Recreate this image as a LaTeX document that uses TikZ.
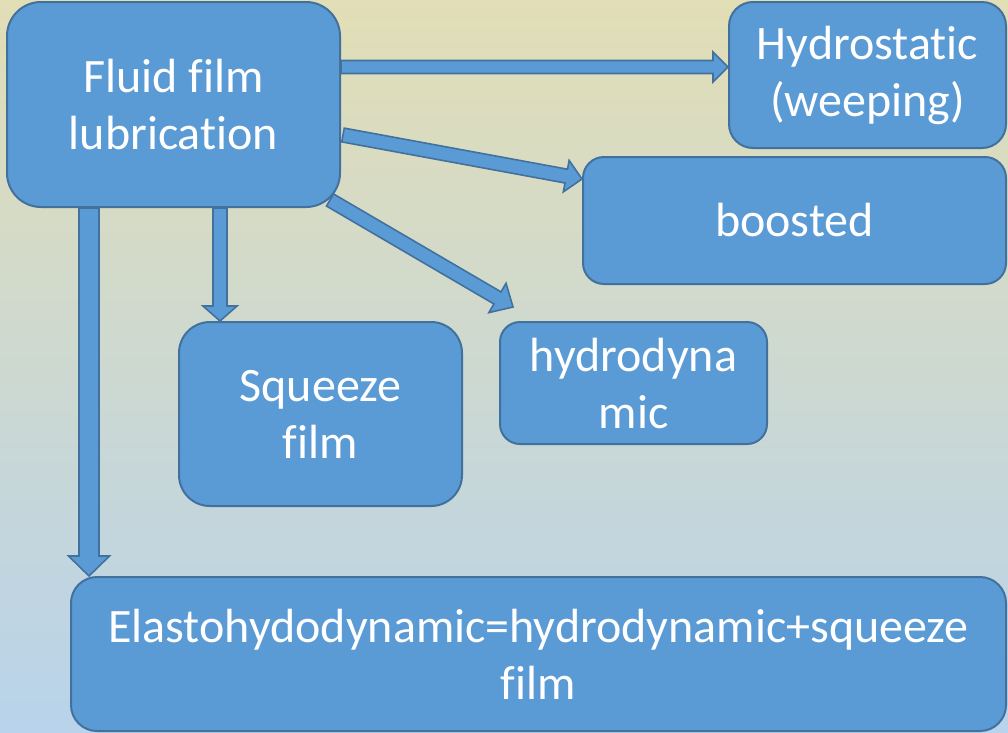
\documentclass[tikz,border=0pt]{standalone}
\usepackage{fontspec}
\setmainfont{Carlito}[Ligatures=NoCommon]
\usetikzlibrary{calc}
\definecolor{bgtop}{HTML}{E2DEB6}
\definecolor{bgbot}{HTML}{B8D3EB}
\definecolor{boxfill}{HTML}{5B9BD5}
\definecolor{boxline}{HTML}{41719C}
\tikzset{
  box/.style={draw=boxline, fill=boxfill, line width=2pt, text=white, align=center,
    inner sep=0pt, font=\fontsize{48}{57}\selectfont},
  arrowbox/.style={draw=boxline, fill=boxfill, line width=1.6pt, line join=miter}
}
\newcommand\blockarrow[5]{%
  \path (#1); \pgfgetlastxy{\bax}{\bay}%
  \path (#2); \pgfgetlastxy{\bbx}{\bby}%
  \pgfmathsetmacro\bang{atan2((\bby)-(\bay),(\bbx)-(\bax))}%
  \pgfmathsetmacro\blen{veclen((\bbx)-(\bax),(\bby)-(\bay))}%
  \pgfmathsetmacro\bneck{\blen-#5}%
  \begin{scope}[shift={(\bax,\bay)},rotate=\bang]
    \draw[arrowbox] (0pt,#3pt) -- (\bneck pt,#3pt) -- (\bneck pt,#4pt) -- (\blen pt,0pt)
      -- (\bneck pt,-#4pt) -- (\bneck pt,-#3pt) -- (0pt,-#3pt) -- cycle;
  \end{scope}}
\begin{document}
\begin{tikzpicture}[x=1pt,y=-1pt]
\useasboundingbox (0,0) rectangle (1008,732);
\fill[top color=bgtop, bottom color=bgbot] (0,0) rectangle (1008,732);

\node[box, minimum width=333pt, minimum height=205pt, rounded corners=34pt] (fluid) at (173.5,104.5) {Fluid film\\lubrication};
\node[box, minimum width=277pt, minimum height=146pt, rounded corners=24pt] (hydro) at (867.5,75) {Hydrostatic\\(weeping)};
\node[box, minimum width=423pt, minimum height=127pt, rounded corners=21pt] (boosted) at (794.5,220.5) {boosted};
\node[box, minimum width=267pt, minimum height=122pt, rounded corners=20pt] (hdyn) at (633.5,383) {hydrodyna\\mic};
\node[box, minimum width=283pt, minimum height=184pt, rounded corners=31pt] (squeeze) at (320.5,414) {Squeeze\\film};
\node[box, minimum width=935pt, minimum height=154pt, rounded corners=26pt] (elasto) at (538.5,654) {Elastohydodynamic=hydrodynamic+squeeze\\film};

\coordinate (a1s) at (fluid.east |- 0,67);
\coordinate (a1e) at (hydro.west |- 0,67);
\coordinate (a2s) at ($(fluid.east |- 0,135)+(2,0)$);
\coordinate (a2e) at ($(boosted.north west)+(0,23)$);
\coordinate (a3s) at ($(fluid.south east)+(-11,-8)$);
\coordinate (a3e) at (513,307);
\coordinate (a4s) at (fluid.south -| 220,0);
\coordinate (a4e) at (squeeze.north -| 220,0);
\coordinate (a5s) at (fluid.south -| 89,0);
\coordinate (a5e) at (elasto.north -| 89,0);

\blockarrow{a1s}{a1e}{6.5}{15}{15}
\blockarrow{a2s}{a2e}{7}{16}{16}
\blockarrow{a3s}{a3e}{7}{17}{18}
\blockarrow{a4s}{a4e}{7}{17}{15}
\blockarrow{a5s}{a5e}{10}{20.5}{20}
\end{tikzpicture}
\end{document}
